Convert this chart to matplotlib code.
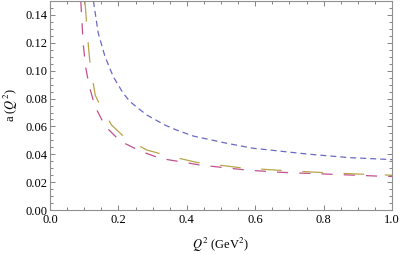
from matplotlib import pyplot as plt
from matplotlib.ticker import MultipleLocator, FormatStrFormatter

# curves (Q^2 in GeV^2, a(Q^2))
q2_blue = [0.127, 0.141, 0.161, 0.185, 0.214, 0.234, 0.258, 0.283, 0.336, 0.370,
           0.419, 0.517, 0.595, 0.643, 0.668, 0.760, 0.877, 1.0]
a_blue = [0.150, 0.127, 0.110, 0.0957, 0.0838, 0.0778, 0.0730, 0.0682, 0.0610, 0.0574,
          0.0531, 0.0479, 0.0443, 0.0431, 0.0424, 0.0400, 0.0376, 0.0362]

q2_magenta = [0.090, 0.097, 0.104, 0.115, 0.132, 0.161, 0.205, 0.263, 0.322, 0.439,
              0.575, 0.673, 0.800, 0.955, 1.0]
a_magenta = [0.150, 0.1197, 0.1029, 0.0885, 0.0742, 0.0603, 0.0495, 0.0424, 0.0371, 0.0323,
             0.0287, 0.0271, 0.0259, 0.0244, 0.0241]

q2_olive = [0.102, 0.112, 0.117, 0.132, 0.146, 0.180, 0.224, 0.283, 0.336, 0.429,
            0.556, 0.658, 0.804, 0.926, 1.0]
a_olive = [0.150, 0.1185, 0.1053, 0.0826, 0.0754, 0.0610, 0.0508, 0.0431, 0.0395, 0.0342,
           0.0304, 0.0287, 0.0268, 0.0256, 0.0250]

plt.rcParams['font.family'] = ['Liberation Serif', 'DejaVu Serif']
plt.rcParams['mathtext.fontset'] = 'stix'

fig = plt.figure(figsize=(4.0, 2.54), dpi=100)
ax = fig.add_axes([0.125, 0.173, 0.855, 0.823])

ax.plot(q2_blue, a_blue, color='#6a6ac6', lw=0.9, dashes=(4.8, 3.2))
ax.plot(q2_magenta, a_magenta, color='#c2508f', lw=0.9, dashes=(8.9, 8.9))
ax.plot(q2_olive, a_olive, color='#b9a449', lw=0.9, dashes=(16.5, 16.5))

ax.set_xlim(0, 1.0)
ax.set_ylim(0, 0.15)

ax.xaxis.set_major_locator(MultipleLocator(0.2))
ax.xaxis.set_minor_locator(MultipleLocator(0.05))
ax.yaxis.set_major_locator(MultipleLocator(0.02))
ax.yaxis.set_minor_locator(MultipleLocator(0.005))
ax.xaxis.set_major_formatter(FormatStrFormatter('%.1f'))
ax.yaxis.set_major_formatter(FormatStrFormatter('%.2f'))

ax.tick_params(which='both', direction='in', top=True, right=True,
               color='#707070', labelsize=9, width=0.6)
ax.tick_params(which='major', length=3.5)
ax.tick_params(which='minor', length=2)
ax.tick_params(axis='y', pad=2)
ax.tick_params(axis='x', pad=3)
for spine in ax.spines.values():
    spine.set_color('#909090')
    spine.set_linewidth(0.8)

ax.set_xlabel(r'$Q^2$ (GeV$^2$)', fontsize=9, labelpad=7)
ax.set_ylabel(r'a ($Q^2$)', fontsize=9, labelpad=4)

fig.savefig('out.png', dpi=100)
